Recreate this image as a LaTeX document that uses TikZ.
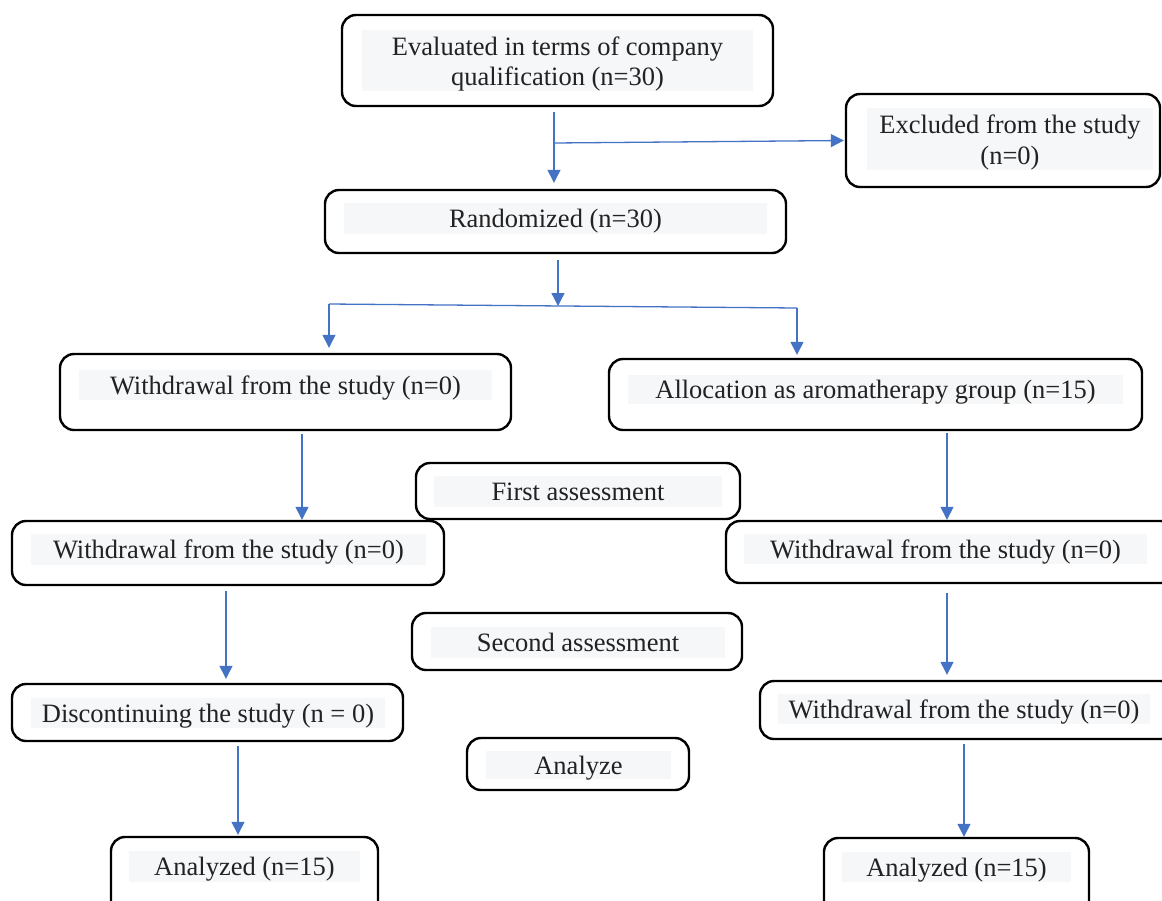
\documentclass[tikz,border=0pt]{standalone}
\usepackage{fontspec}
\setmainfont{Liberation Serif}
\usetikzlibrary{arrows.meta}
\definecolor{arrblue}{HTML}{4472C4}
\definecolor{bgc}{HTML}{F6F7F9}
\definecolor{txtc}{HTML}{222222}
\tikzset{
  boxst/.style={draw=black, line width=2.4pt, rounded corners=14pt, inner sep=0pt},
  txtst/.style={font=\fontsize{26.5}{30.5}\selectfont, text=txtc, align=center, inner sep=0pt},
  onel/.style={text height=24pt, text depth=5.4pt},
  twol/.style={yshift=-3.5pt},
  arr/.style={draw=arrblue, line width=1.3pt, -{Triangle[length=13pt,width=13pt]}},
  arrline/.style={draw=arrblue, line width=1.3pt}
}
\def\flowbox#1[#2,#3,#4,#5][#6,#7,#8,#9]{%
  \node[boxst, minimum width={(#4-#2)*1pt}, minimum height={(#5-#3)*1pt}] (#1) at ({(#2+#4)/2},{(#3+#5)/2}) {};
  \fill[bgc] (#6,#7) rectangle (#8,#9);
  \def\fbn{#1}\def\fbx{(#6+#8)/2}\def\fby{(#7+#9)/2}\flowboxtext}
\newcommand\flowboxtext[2][onel]{\node[txtst,#1] (\fbn-t) at ({\fbx},{\fby}) {#2};}
\begin{document}
\begin{tikzpicture}[x=1pt,y=-1pt]
\useasboundingbox (0,0) rectangle (1162,900);
\fill[white] (0,0) rectangle (1162,900);
\clip (0,0) rectangle (1162,900);

\flowbox{top}[342,15,773,106][362,30,753,91][twol]{Evaluated in terms of company\\qualification (n=30)}
\flowbox{excl}[846,94,1160,187][867,108,1153,170][twol]{Excluded from the study\\(n=0)}
\flowbox{rand}[325,190,786,253][344,203,767,234]{Randomized (n=30)}
\flowbox{w1}[60,354,511,430][79,370,492,400]{Withdrawal from the study (n=0)}
\flowbox{alloc}[609,359,1142,430][628,375,1123,404]{Allocation as aromatherapy group (n=15)}
\flowbox{first}[416,463,740,519][434,476,722,507]{First assessment}
\flowbox{w2}[12,521,444,585][31,534,426,565]{Withdrawal from the study (n=0)}
\flowbox{w3}[726,521,1175,583][744,534,1147,564]{Withdrawal from the study (n=0)}
\flowbox{second}[412,613,742,670][431,627,725,658]{Second assessment}
\flowbox{disc}[12,684,403,741][31,698,385,728]{Discontinuing the study (n = 0)}
\flowbox{w4}[760,681,1175,739][778,694,1150,724]{Withdrawal from the study (n=0)}
\flowbox{analyze}[467,738,689,790][486,751,671,779]{Analyze}
\flowbox{anl}[111,837,378,915][129,851,360,882]{Analyzed (n=15)}
\flowbox{anr}[824,838,1089,915][842,852,1071,882]{Analyzed (n=15)}

\coordinate (j1) at (554,143);
\draw[arr, shorten <=5pt, shorten >=6pt] (top.south -| j1) -- (rand.north -| j1);
\draw[arr, shorten >=1pt] (j1) -- (excl.west);

\coordinate (j2) at (558,306);
\coordinate (hl) at (329,304);
\coordinate (hr) at (797,308);
\draw[arr, shorten <=6pt] (rand.south -| j2) -- (j2);
\draw[arrline] (hl) -- (hr);
\draw[arr, shorten >=5pt] (hl) -- (w1.north -| hl);
\draw[arr, shorten >=3pt] (hr) -- (alloc.north -| hr);

\coordinate (c1) at (302,0);
\coordinate (c2) at (226,0);
\coordinate (c3) at (238,0);
\coordinate (c4) at (947,0);
\coordinate (c5) at (964,0);
\draw[arr, shorten <=3pt] (w1.south -| c1) -- (w2.north -| c1);
\draw[arr, shorten <=5pt, shorten >=4pt] (w2.south -| c2) -- (disc.north -| c2);
\draw[arr, shorten <=4pt, shorten >=1pt] (disc.south -| c3) -- (anl.north -| c3);
\draw[arr, shorten <=2pt] (alloc.south -| c4) -- (w3.north -| c4);
\draw[arr, shorten <=9pt, shorten >=5pt] (w3.south -| c4) -- (w4.north -| c4);
\draw[arr, shorten <=4pt] (w4.south -| c5) -- (anr.north -| c5);
\end{tikzpicture}
\end{document}
